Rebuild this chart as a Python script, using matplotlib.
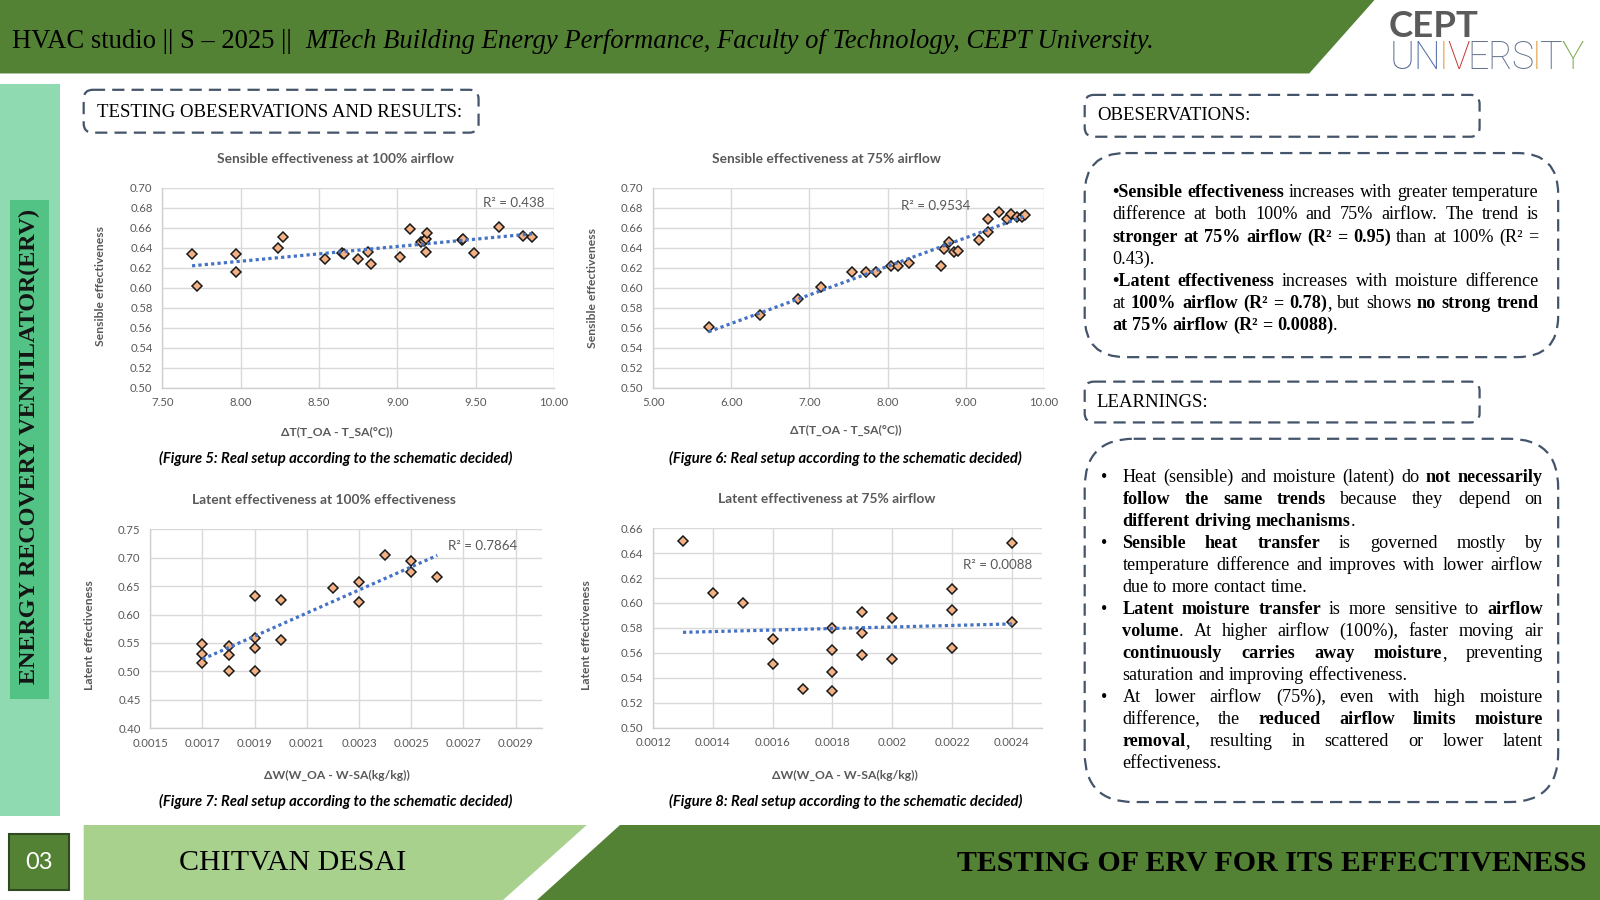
import numpy as np
import matplotlib
matplotlib.use("Agg")
import matplotlib.pyplot as plt
from matplotlib.patches import Polygon, FancyBboxPatch, Rectangle

# ---------------- data ----------------
sens100_dT = [7.69, 7.72, 7.97, 7.97, 8.24, 8.27, 8.54, 8.65, 8.66, 8.75, 8.81, 8.83,
              9.02, 9.08, 9.15, 9.17, 9.18, 9.19, 9.18, 9.41, 9.42, 9.49, 9.65, 9.80, 9.86]
sens100_eff = [0.634, 0.602, 0.634, 0.616, 0.640, 0.651, 0.629, 0.635, 0.634, 0.629, 0.636, 0.624,
               0.631, 0.659, 0.646, 0.647, 0.649, 0.655, 0.636, 0.648, 0.649, 0.635, 0.661, 0.652, 0.651]

sens75_dT = [5.71, 6.37, 6.86, 7.15, 7.55, 7.73, 7.85, 8.05, 8.13, 8.27, 8.68, 8.72,
             8.78, 8.85, 8.90, 9.17, 9.28, 9.29, 9.42, 9.53, 9.58, 9.66, 9.72, 9.76]
sens75_eff = [0.561, 0.573, 0.589, 0.601, 0.616, 0.616, 0.616, 0.622, 0.622, 0.625, 0.622, 0.639,
              0.646, 0.636, 0.637, 0.648, 0.656, 0.669, 0.676, 0.669, 0.674, 0.671, 0.671, 0.673]

lat100_dW = [0.0017, 0.0017, 0.0017, 0.0018, 0.0018, 0.0018, 0.0019, 0.0019, 0.0019, 0.0019,
             0.0020, 0.0020, 0.0022, 0.0023, 0.0023, 0.0024, 0.0025, 0.0025, 0.0026]
lat100_eff = [0.548, 0.531, 0.515, 0.545, 0.529, 0.500, 0.633, 0.559, 0.542, 0.500,
              0.625, 0.555, 0.647, 0.657, 0.622, 0.705, 0.694, 0.675, 0.666]

lat75_dW = [0.0013, 0.0014, 0.0015, 0.0016, 0.0016, 0.0017, 0.0018, 0.0018, 0.0018, 0.0018,
            0.0019, 0.0019, 0.0019, 0.0020, 0.0020, 0.0022, 0.0022, 0.0022, 0.0024, 0.0024]
lat75_eff = [0.650, 0.608, 0.600, 0.571, 0.551, 0.531, 0.580, 0.562, 0.545, 0.529,
             0.593, 0.576, 0.558, 0.588, 0.555, 0.611, 0.594, 0.564, 0.648, 0.585]

r2_labels = ["R\u00b2 = 0.438", "R\u00b2 = 0.9534", "R\u00b2 = 0.7864", "R\u00b2 = 0.0088"]
chart_titles = ["Sensible effectiveness at 100% airflow", "Sensible effectiveness at 75% airflow",
                "Latent effectiveness at 100% effectiveness", "Latent effectiveness at 75% airflow"]
x_labels = ["\u0394T(T_OA - T_SA(\u00b0C))", "\u0394T(T_OA - T_SA(\u00b0C))",
            "\u0394W(W_OA - W-SA(kg/kg))", "\u0394W(W_OA - W-SA(kg/kg))"]
y_labels = ["Sensible effectiveness", "Sensible effectiveness",
            "Latent effectiveness", "Latent effectiveness"]
captions = ["(Figure 5: Real setup according to the schematic decided)",
            "(Figure 6: Real setup according to the schematic decided)",
            "(Figure 7: Real setup according to the schematic decided)",
            "(Figure 8: Real setup according to the schematic decided)"]
sens_xt1 = [7.5, 8.0, 8.5, 9.0, 9.5, 10.0]
sens_xt2 = [5.0, 6.0, 7.0, 8.0, 9.0, 10.0]
sens_yt = [0.50, 0.52, 0.54, 0.56, 0.58, 0.60, 0.62, 0.64, 0.66, 0.68, 0.70]
lat100_xt = [0.0015, 0.0017, 0.0019, 0.0021, 0.0023, 0.0025, 0.0027, 0.0029]
lat100_xtl = ["0.0015", "0.0017", "0.0019", "0.0021", "0.0023", "0.0025", "0.0027", "0.0029"]
lat100_yt = [0.40, 0.45, 0.50, 0.55, 0.60, 0.65, 0.70, 0.75]
lat75_xt = [0.0012, 0.0014, 0.0016, 0.0018, 0.0020, 0.0022, 0.0024]
lat75_xtl = ["0.0012", "0.0014", "0.0016", "0.0018", "0.002", "0.0022", "0.0024"]
lat75_yt = [0.50, 0.52, 0.54, 0.56, 0.58, 0.60, 0.62, 0.64, 0.66]

header_plain = "HVAC studio || S \u2013 2025 ||  "
header_italic = "MTech Building Energy Performance, Faculty of Technology, CEPT University."
side_text = "ENERGY RECOVERY VENTILATOR(ERV)"
footer_name = "CHITVAN DESAI"
footer_title = "TESTING OF ERV FOR ITS EFFECTIVENESS"
page_no = "03"

obs_lines = [
    ("**\u2022Sensible effectiveness** increases with greater temperature", True),
    ("difference at both 100% and 75% airflow. The trend is", True),
    ("**stronger at 75% airflow (R\u00b2 = 0.95)** than at 100% (R\u00b2 =", True),
    ("0.43).", False),
    ("**\u2022Latent effectiveness** increases with moisture difference", True),
    ("at **100% airflow (R\u00b2 = 0.78)**, but shows **no strong trend**", True),
    ("**at 75% airflow (R\u00b2 = 0.0088)**.", False),
]
learn_lines = [
    (True, "Heat (sensible) and moisture (latent) do **not necessarily**", True),
    (False, "**follow the same trends** because they depend on", True),
    (False, "**different driving mechanisms**.", False),
    (True, "**Sensible heat transfer** is governed mostly by", True),
    (False, "temperature difference and improves with lower airflow", True),
    (False, "due to more contact time.", False),
    (True, "**Latent moisture transfer** is more sensitive to **airflow**", True),
    (False, "**volume**. At higher airflow (100%), faster moving air", True),
    (False, "**continuously carries away moisture**, preventing", True),
    (False, "saturation and improving effectiveness.", False),
    (True, "At lower airflow (75%), even with high moisture", True),
    (False, "difference, the **reduced airflow limits moisture**", True),
    (False, "**removal**, resulting in scattered or lower latent", True),
    (False, "effectiveness.", False),
]

# ---------------- setup ----------------
SANS = ["Lato", "DejaVu Sans"]
SERIF = ["Liberation Serif", "DejaVu Serif"]
LOGO = ["Roboto", "DejaVu Sans"]
plt.rcParams["font.family"] = SANS

W, H = 1568.0, 882.0          # layout units (reference picture)
PX = 1600.0 / W               # pixels per unit
fig = plt.figure(figsize=(16, 9), dpi=100, facecolor="white")
renderer = fig.canvas.get_renderer()

_cache = {}
def measure(s, size, **kw):
    key = (s, round(size, 3), tuple(sorted((k, str(v)) for k, v in kw.items())))
    if key not in _cache:
        t = fig.text(0, 0, s, fontsize=size, **kw)
        _cache[key] = t.get_window_extent(renderer).width / PX
        t.remove()
    return _cache[key]

def fit(s, target, **kw):
    return 10.0 * target / measure(s, 10.0, **kw)

ov = fig.add_axes([0, 0, 1, 1], zorder=0)
ov.set_xlim(0, W)
ov.set_ylim(H, 0)
ov.axis("off")

GREEN = "#548235"
LIGHT = "#A9D18E"
DASH = "#44546A"

# header
ov.add_patch(Polygon([(0, 0), (1347, 0), (1283, 72), (0, 72)], closed=True, fc=GREEN, ec="none"))
hs = 10.0 * 1120 / (measure(header_plain, 10, family=SERIF) + measure(header_italic, 10, family=SERIF, style="italic"))
ov.text(12, 41, header_plain, family=SERIF, fontsize=hs, va="center", ha="left", color="black")
ov.text(12 + measure(header_plain, hs, family=SERIF), 41, header_italic, family=SERIF,
        style="italic", fontsize=hs, va="center", ha="left", color="black")

# logo
cfs = fit("CEPT", 88, weight="bold")
ov.text(1361, 36, "CEPT", fontsize=cfs, weight="bold", color="#5B5B5B", va="baseline", ha="left")
univ = "UNIVERSITY"
ucol = ["#55698F", "#4868A0", "#E0922A", "#C23A34", "#66768F", "#66768F", "#66768F", "#E0922A", "#66768F", "#74A540"]
ufs = 27.0
uw = [measure(c, ufs, family=LOGO, weight="light") for c in univ]
usp = (190 - sum(uw)) / (len(univ) - 1)
ux = 1362
for c, col, w in zip(univ, ucol, uw):
    ov.text(ux, 68, c, fontsize=ufs, family=LOGO, weight="light", color=col, va="baseline", ha="left")
    ux += w + usp

# left band
ov.add_patch(Rectangle((0, 82), 59, 718, fc="#90DAB1", ec="none"))
ov.add_patch(Rectangle((10, 196), 38, 489, fc="#52C384", ec="none"))
sfs = fit(side_text, 466, family=SERIF, weight="bold")
ov.text(29, 438, side_text, rotation=90, family=SERIF, weight="bold", fontsize=sfs,
        ha="center", va="center", color="#141414")

# footer
ov.add_patch(Polygon([(82, 808.5), (575, 808.5), (493, 882), (82, 882)], closed=True, fc=LIGHT, ec="none"))
ov.add_patch(Polygon([(607.6, 808.5), (W, 808.5), (W, 882), (526, 882)], closed=True, fc=GREEN, ec="none"))
ov.add_patch(Rectangle((9, 817), 59, 55, fc=GREEN, ec="#2F4A1E", lw=1.5))
ov.text(38.5, 845, page_no, fontsize=17, color="white", ha="center", va="center")
nfs = fit(footer_name, 222, family=SERIF)
ov.text(175, 846, footer_name, family=SERIF, fontsize=nfs, ha="left", va="center", color="black")
ffs = fit(footer_title, 617, family=SERIF, weight="bold")
ov.text(1555, 846, footer_title, family=SERIF, weight="bold", fontsize=ffs, ha="right", va="center", color="black")

# dashed boxes
def dbox(x0, y0, x1, y1, r):
    ov.add_patch(FancyBboxPatch((x0, y0), x1 - x0, y1 - y0,
                                boxstyle="round,pad=0,rounding_size=%g" % r,
                                fc="none", ec=DASH, lw=1.6, ls=(0, (5.5, 3.2))))

secfs = fit("TESTING OBESERVATIONS AND RESULTS:", 358, family=SERIF)
dbox(82, 88, 469, 130, 9)
ov.text(95, 110, "TESTING OBESERVATIONS AND RESULTS:", family=SERIF, fontsize=secfs, va="center", ha="left")
dbox(1063, 93, 1450, 134, 9)
ov.text(1075, 113, "OBESERVATIONS:", family=SERIF, fontsize=secfs, va="center", ha="left")
dbox(1063, 150, 1527, 350, 40)
dbox(1063, 374, 1450, 414, 9)
ov.text(1075, 394, "LEARNINGS:", family=SERIF, fontsize=secfs, va="center", ha="left")
dbox(1063, 430, 1527, 786, 48)

# justified paragraphs
def parse(line):
    chars, bold, i = [], False, 0
    while i < len(line):
        if line[i:i + 2] == "**":
            bold = not bold
            i += 2
            continue
        chars.append((line[i], bold))
        i += 1
    words, cur = [], []
    for ch, b in chars:
        if ch == " ":
            if cur:
                words.append(cur)
                cur = []
        else:
            cur.append((ch, b))
    if cur:
        words.append(cur)
    out = []
    for w in words:
        runs = []
        for ch, b in w:
            if runs and runs[-1][1] == b:
                runs[-1][0] += ch
            else:
                runs.append([ch, b])
        out.append(runs)
    return out

def wprops(b):
    return dict(family=SERIF, weight="bold" if b else "normal")

def natural(txt, size):
    words = parse(txt)
    sp = measure("x x", size, family=SERIF) - measure("xx", size, family=SERIF)
    return sum(sum(measure(r, size, **wprops(b)) for r, b in w) for w in words) + sp * (len(words) - 1)

bfs = fit("saturation and improving effectiveness.", 293, family=SERIF)
limits = [10.0 * 418 / natural(t, 10.0) for t, j in obs_lines if j]
limits += [10.0 * 412 / natural(t, 10.0) for b, t, j in learn_lines if j]
bfs = min(bfs, 0.995 * min(limits))

space_w = measure("x x", bfs, family=SERIF) - measure("xx", bfs, family=SERIF)
em = bfs * (100 / 72.0) / PX

def draw_line(txt, just, x0, x1, yc):
    yb = yc + 0.3 * em
    words = parse(txt)
    widths = [sum(measure(r, bfs, **wprops(b)) for r, b in w) for w in words]
    total = sum(widths)
    gap = (x1 - x0 - total) / (len(words) - 1) if (just and len(words) > 1) else space_w
    x = x0
    for w, ww in zip(words, widths):
        xx = x
        for r, b in w:
            ov.text(xx, yb, r, fontsize=bfs, va="baseline", ha="left", color="black", **wprops(b))
            xx += measure(r, bfs, **wprops(b))
        x += ww + gap

for i, (txt, just) in enumerate(obs_lines):
    draw_line(txt, just, 1090, 1508, 188 + i * 21.7)
for i, (bul, txt, just) in enumerate(learn_lines):
    yc = 467 + i * 21.55
    if bul:
        ov.text(1082, yc + 0.3 * em, "\u2022", family=SERIF, fontsize=bfs, va="baseline", ha="center")
    draw_line(txt, just, 1100, 1512, yc)

# ---------------- charts ----------------
GRAY = "#595959"
tfs = fit(chart_titles[0], 232, weight="bold")
tkfs = fit("0.0015", 35)
alfs = fit(x_labels[0], 109, weight="bold")
r2fs = fit(r2_labels[0], 60)
capfs = fit(captions[0], 347, weight="bold", style="italic")

def chart(box, x, y, xlim, ylim, xt, xtl, yt, r2, r2pos):
    x0, y0, x1, y1 = box
    ax = fig.add_axes([x0 / W, 1 - y1 / H, (x1 - x0) / W, (y1 - y0) / H], zorder=2)
    ax.plot(x, y, ls="none", marker="D", ms=4.8, mfc="#F4B183", mec="#1A1A1A", mew=1.1, zorder=3, clip_on=False)
    c = np.polyfit(x, y, 1)
    xs = np.array([min(x), max(x)])
    ax.plot(xs, np.polyval(c, xs), ls=(0, (1, 1)), color="#4472C4", lw=2.3, zorder=4)
    ax.set_xlim(*xlim)
    ax.set_ylim(*ylim)
    ax.set_xticks(xt)
    ax.set_xticklabels(xtl)
    ax.set_yticks(yt)
    ax.set_yticklabels(["%.2f" % v for v in yt])
    ax.grid(True, color="#D9D9D9", lw=1.0)
    ax.set_axisbelow(True)
    for s in ["top", "right"]:
        ax.spines[s].set_visible(False)
    for s in ["left", "bottom"]:
        ax.spines[s].set_color("#D0D0D0")
        ax.spines[s].set_linewidth(1.0)
    ax.tick_params(length=0, labelsize=tkfs, labelcolor=GRAY, pad=7)
    ax.text(r2pos[0], r2pos[1], r2, fontsize=r2fs, color=GRAY, ha="center", va="center")
    return ax

chart((159, 184, 543, 380), sens100_dT, sens100_eff, (7.5, 10.0), (0.50, 0.70),
      sens_xt1, ["%.2f" % v for v in sens_xt1], sens_yt, r2_labels[0], (9.74, 0.685))
chart((640, 184, 1023, 380), sens75_dT, sens75_eff, (5.0, 10.0), (0.50, 0.70),
      sens_xt2, ["%.2f" % v for v in sens_xt2], sens_yt, r2_labels[1], (8.62, 0.682))
chart((147.3, 518.7, 530.8, 713.7), lat100_dW, lat100_eff, (0.0015, 0.0030), (0.40, 0.75),
      lat100_xt, lat100_xtl, lat100_yt, r2_labels[2], (0.002773, 0.7207))
chart((640, 517.7, 1021, 713), lat75_dW, lat75_eff, (0.0012, 0.0025), (0.50, 0.66),
      lat75_xt, lat75_xtl, lat75_yt, r2_labels[3], (0.002353, 0.6306))

title_pos = [(329, 156), (810, 156), (317, 490), (810, 489.5)]
xlab_pos = [(330, 423.5), (829, 421.5), (330, 760), (828, 760)]
ylab_pos = [(98, 280), (581, 282), (88, 622), (575, 622)]
cap_pos = [(328.5, 449), (828.5, 449), (328.5, 785), (828.5, 785)]
for i in range(4):
    ov.text(*title_pos[i], chart_titles[i], fontsize=tfs, weight="bold", color=GRAY, ha="center", va="center")
    ov.text(*xlab_pos[i], x_labels[i], fontsize=alfs, weight="bold", color=GRAY, ha="center", va="center")
    ov.text(*ylab_pos[i], y_labels[i], fontsize=alfs, weight="bold", color=GRAY, ha="center", va="center", rotation=90)
    ov.text(*cap_pos[i], captions[i], fontsize=capfs, weight="bold", style="italic", color="black", ha="center", va="center")

fig.savefig("out.png", dpi=100, facecolor="white")
